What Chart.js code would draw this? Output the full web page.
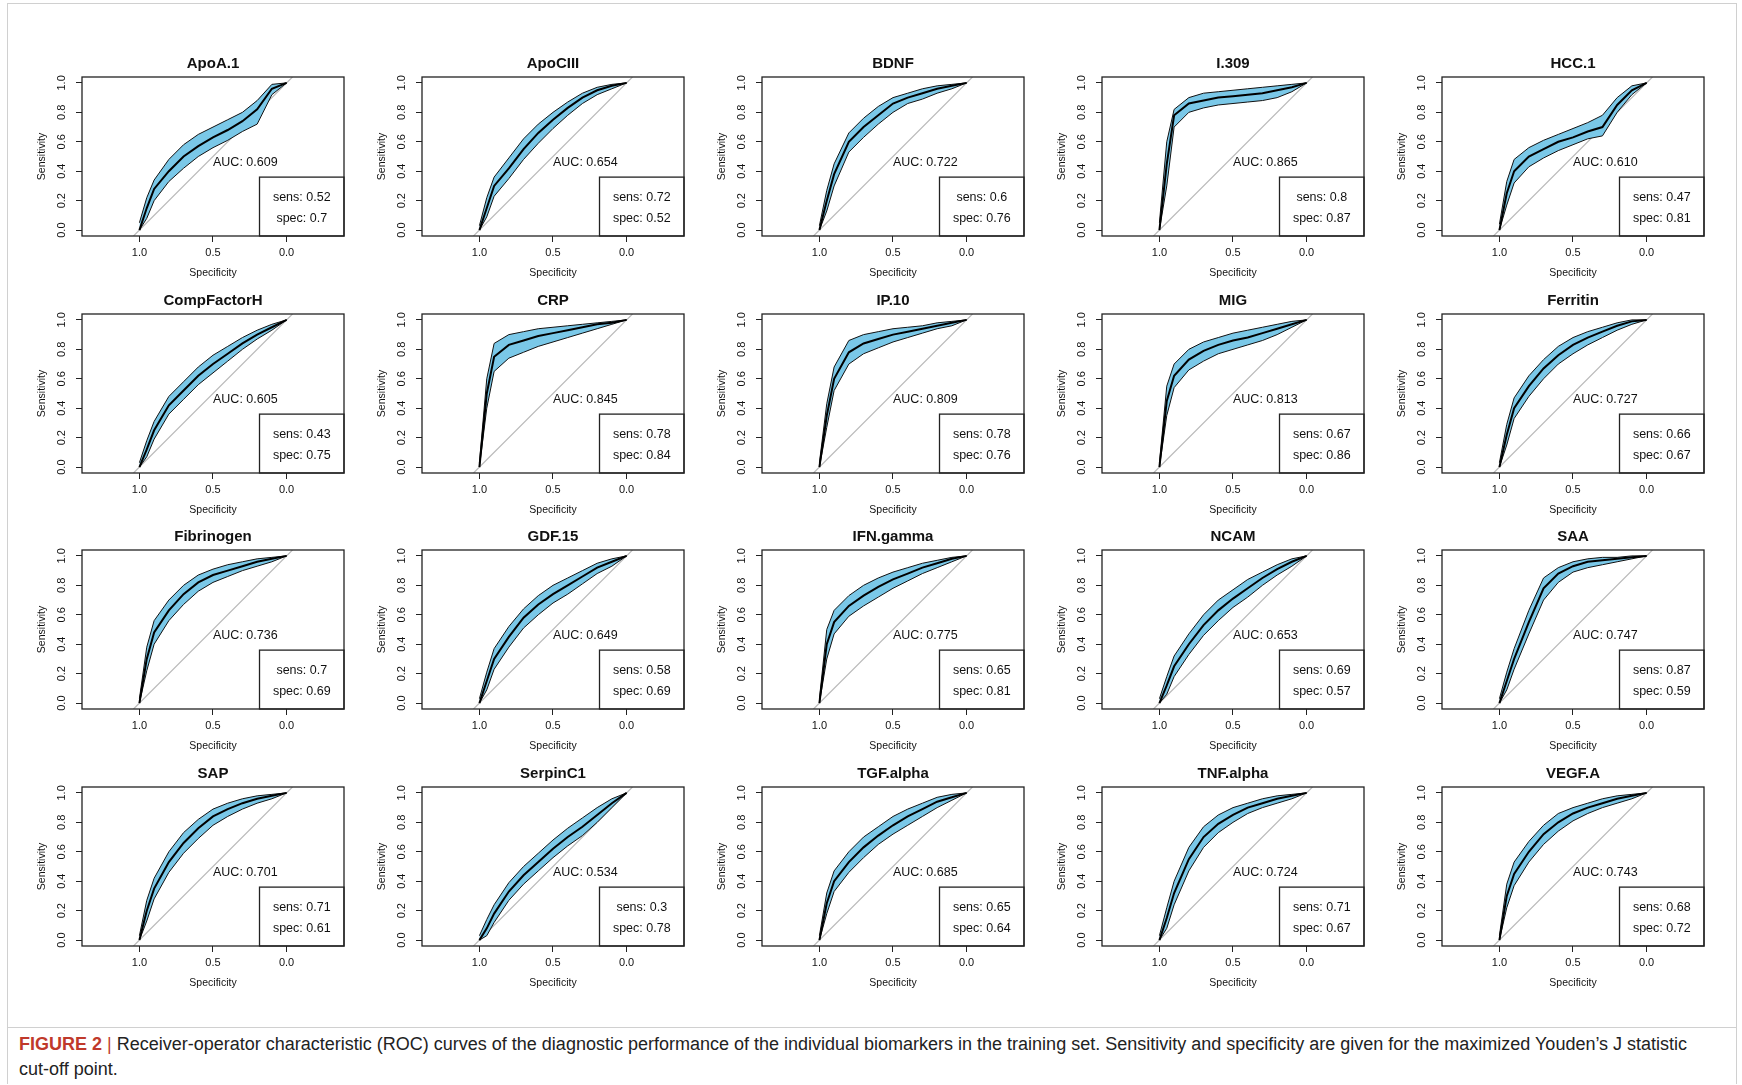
<!DOCTYPE html>
<html><head><meta charset="utf-8">
<script src="https://cdn.jsdelivr.net/npm/chart.js@4.4.0/dist/chart.umd.min.js"></script>
<style>
body{margin:0;width:1742px;height:1085px;background:#fff;position:relative;overflow:hidden;font-family:"Liberation Sans",Arial,sans-serif}
#frame{position:absolute;left:7px;top:3px;width:1728px;height:1080px;border:1px solid #d0d0d0;border-bottom:none}
#sep{position:absolute;left:7px;top:1027px;width:1729px;height:1px;background:#d0d0d0}
.pc{position:absolute;width:330px;height:250px}
#cap{position:absolute;left:19px;top:1032px;width:1690px;font-size:18px;line-height:25px;color:#222}
#cap b{color:#c0392b;font-weight:bold}
</style></head><body>
<div id="frame"></div><div id="sep"></div>
<div id="wrap"></div>
<div id="cap"><b>FIGURE 2</b> <span style="color:#c0392b">|</span> Receiver-operator characteristic (ROC) curves of the diagnostic performance of the individual biomarkers in the training set. Sensitivity and specificity are given for the maximized Youden’s J statistic cut-off point.</div>
<script>
const names=["ApoA.1","ApoCIII","BDNF","I.309","HCC.1","CompFactorH","CRP","IP.10","MIG","Ferritin","Fibrinogen","GDF.15","IFN.gamma","NCAM","SAA","SAP","SerpinC1","TGF.alpha","TNF.alpha","VEGF.A"];
const auc=["0.609","0.654","0.722","0.865","0.610","0.605","0.845","0.809","0.813","0.727","0.736","0.649","0.775","0.653","0.747","0.701","0.534","0.685","0.724","0.743"];
const sens=["0.52","0.72","0.6","0.8","0.47","0.43","0.78","0.78","0.67","0.66","0.7","0.58","0.65","0.69","0.87","0.71","0.3","0.65","0.71","0.68"];
const spec=["0.7","0.52","0.76","0.87","0.81","0.75","0.84","0.76","0.86","0.67","0.69","0.69","0.81","0.57","0.59","0.61","0.78","0.64","0.67","0.72"];
const specGrid=[1,0.95,0.9,0.8,0.7,0.6,0.5,0.4,0.3,0.2,0.1,0];
const xTicks=[1.0,0.5,0.0];
const yTicks=[0,0.2,0.4,0.6,0.8,1.0];
const sensMain=[
[0,0.15,0.28,0.40,0.50,0.57,0.63,0.68,0.74,0.82,0.96,1],
[0,0.15,0.3,0.42,0.55,0.66,0.75,0.83,0.9,0.95,0.98,1],
[0,0.2,0.38,0.6,0.7,0.78,0.86,0.9,0.93,0.96,0.98,1],
[0,0.45,0.78,0.86,0.88,0.9,0.91,0.92,0.93,0.95,0.97,1],
[0,0.25,0.4,0.5,0.55,0.6,0.63,0.67,0.7,0.85,0.95,1],
[0,0.12,0.25,0.42,0.52,0.62,0.7,0.77,0.84,0.9,0.95,1],
[0,0.5,0.75,0.83,0.86,0.89,0.91,0.93,0.95,0.97,0.98,1],
[0,0.35,0.6,0.78,0.84,0.87,0.9,0.92,0.94,0.96,0.98,1],
[0,0.45,0.62,0.73,0.79,0.83,0.86,0.88,0.91,0.94,0.97,1],
[0,0.22,0.4,0.55,0.67,0.76,0.83,0.88,0.92,0.96,0.99,1],
[0,0.3,0.48,0.63,0.74,0.82,0.87,0.9,0.93,0.96,0.98,1],
[0,0.15,0.3,0.45,0.58,0.67,0.74,0.8,0.86,0.92,0.96,1],
[0,0.4,0.55,0.66,0.73,0.79,0.84,0.88,0.92,0.95,0.98,1],
[0,0.12,0.25,0.4,0.53,0.63,0.71,0.78,0.85,0.91,0.96,1],
[0,0.15,0.3,0.55,0.78,0.88,0.93,0.96,0.97,0.98,0.99,1],
[0,0.2,0.35,0.53,0.66,0.76,0.84,0.89,0.93,0.96,0.98,1],
[0,0.08,0.18,0.33,0.44,0.53,0.62,0.7,0.77,0.85,0.93,1],
[0,0.25,0.4,0.53,0.63,0.71,0.78,0.84,0.89,0.94,0.97,1],
[0,0.15,0.32,0.55,0.7,0.79,0.85,0.9,0.93,0.96,0.98,1],
[0,0.3,0.45,0.6,0.72,0.8,0.86,0.9,0.93,0.96,0.98,1]];
const sensUpper=[
[0.05,0.22,0.34,0.48,0.58,0.65,0.70,0.75,0.80,0.88,0.99,1],
[0.03,0.22,0.36,0.49,0.62,0.72,0.8,0.87,0.93,0.97,0.99,1],
[0.03,0.27,0.45,0.66,0.76,0.84,0.9,0.93,0.96,0.98,0.99,1],
[0.05,0.6,0.82,0.9,0.93,0.94,0.95,0.96,0.97,0.98,0.99,1],
[0.04,0.33,0.48,0.56,0.61,0.65,0.69,0.73,0.78,0.9,0.98,1],
[0.03,0.18,0.31,0.48,0.58,0.68,0.76,0.82,0.88,0.93,0.97,1],
[0.03,0.6,0.84,0.9,0.92,0.94,0.95,0.96,0.97,0.98,0.99,1],
[0.03,0.43,0.68,0.86,0.9,0.92,0.94,0.95,0.96,0.98,0.99,1],
[0.03,0.55,0.7,0.8,0.85,0.88,0.91,0.93,0.95,0.97,0.99,1],
[0.03,0.29,0.47,0.62,0.73,0.82,0.88,0.92,0.95,0.98,1,1],
[0.03,0.38,0.56,0.7,0.8,0.87,0.91,0.94,0.96,0.98,0.99,1],
[0.03,0.21,0.37,0.52,0.64,0.73,0.8,0.85,0.9,0.95,0.98,1],
[0.03,0.5,0.63,0.73,0.8,0.85,0.89,0.92,0.95,0.97,0.99,1],
[0.03,0.18,0.32,0.47,0.6,0.7,0.77,0.84,0.89,0.94,0.98,1],
[0.03,0.21,0.37,0.63,0.85,0.92,0.96,0.98,0.99,0.99,1,1],
[0.03,0.27,0.42,0.6,0.73,0.82,0.89,0.93,0.96,0.98,0.99,1],
[0.03,0.14,0.24,0.39,0.5,0.59,0.68,0.76,0.83,0.9,0.96,1],
[0.03,0.32,0.47,0.6,0.7,0.77,0.84,0.89,0.93,0.97,0.99,1],
[0.03,0.22,0.4,0.63,0.77,0.85,0.9,0.93,0.96,0.98,0.99,1],
[0.03,0.38,0.53,0.67,0.78,0.86,0.9,0.93,0.96,0.98,0.99,1]];
const sensLower=[
[0,0.08,0.20,0.33,0.42,0.50,0.56,0.61,0.67,0.72,0.92,1],
[0,0.09,0.23,0.35,0.48,0.59,0.69,0.78,0.86,0.92,0.96,1],
[0,0.13,0.3,0.53,0.63,0.72,0.8,0.86,0.89,0.93,0.96,1],
[0,0.3,0.7,0.8,0.83,0.85,0.86,0.87,0.88,0.9,0.94,1],
[0,0.17,0.32,0.43,0.49,0.54,0.58,0.62,0.64,0.8,0.92,1],
[0,0.07,0.19,0.36,0.46,0.56,0.64,0.72,0.8,0.87,0.93,1],
[0,0.4,0.65,0.74,0.78,0.82,0.85,0.88,0.91,0.94,0.97,1],
[0,0.27,0.52,0.7,0.77,0.81,0.85,0.88,0.91,0.94,0.96,1],
[0,0.35,0.54,0.66,0.72,0.77,0.8,0.83,0.86,0.9,0.95,1],
[0,0.15,0.33,0.48,0.6,0.7,0.77,0.83,0.88,0.93,0.97,1],
[0,0.22,0.4,0.56,0.67,0.76,0.82,0.86,0.9,0.93,0.96,1],
[0,0.09,0.23,0.38,0.51,0.6,0.68,0.74,0.81,0.88,0.93,1],
[0,0.3,0.47,0.59,0.66,0.72,0.78,0.83,0.88,0.92,0.96,1],
[0,0.06,0.18,0.33,0.46,0.56,0.65,0.72,0.8,0.87,0.93,1],
[0,0.09,0.23,0.47,0.7,0.82,0.89,0.92,0.94,0.96,0.98,1],
[0,0.13,0.28,0.46,0.59,0.69,0.78,0.84,0.89,0.93,0.96,1],
[0,0.03,0.12,0.27,0.38,0.47,0.56,0.64,0.71,0.8,0.9,1],
[0,0.18,0.33,0.46,0.56,0.65,0.72,0.78,0.84,0.9,0.95,1],
[0,0.08,0.24,0.47,0.63,0.73,0.8,0.86,0.9,0.93,0.96,1],
[0,0.22,0.37,0.53,0.65,0.74,0.81,0.86,0.9,0.93,0.96,1]];

const FONT='"Liberation Sans",Arial,sans-serif';
const pts=a=>a.map((v,i)=>({x:specGrid[i],y:v}));
const deco={id:'deco',afterDraw(c,args,o){
  const ctx=c.ctx,a=c.chartArea,xs=c.scales.x,ys=c.scales.y,i=o.idx;
  ctx.save();
  ctx.strokeStyle='#222';ctx.lineWidth=1.3;ctx.strokeRect(a.left,a.top,a.right-a.left,a.bottom-a.top);
  const bx=xs.getPixelForValue(0.184),by=ys.getPixelForValue(0.36);
  ctx.strokeRect(bx,by,a.right-bx,a.bottom-by);
  ctx.fillStyle='#111';ctx.font='12.5px '+FONT;ctx.textAlign='center';ctx.textBaseline='middle';
  const cx=(bx+a.right)/2;
  ctx.fillText('sens: '+sens[i],cx,ys.getPixelForValue(0.22));
  ctx.fillText('spec: '+spec[i],cx,ys.getPixelForValue(0.08));
  ctx.textAlign='left';ctx.fillText('AUC: '+auc[i],xs.getPixelForValue(0.5),ys.getPixelForValue(0.46));
  ctx.textAlign='center';ctx.font='bold 15px '+FONT;ctx.fillText(names[i],(a.left+a.right)/2,a.top-13);
  ctx.font='11px '+FONT;
  yTicks.forEach(t=>{const y=ys.getPixelForValue(t);ctx.save();ctx.translate(a.left-20,y);ctx.rotate(-Math.PI/2);ctx.fillText(t.toFixed(1),0,0);ctx.restore();});
  ctx.save();ctx.translate(a.left-40,(a.top+a.bottom)/2);ctx.rotate(-Math.PI/2);ctx.font='10.5px '+FONT;ctx.fillText('Sensitivity',0,0);ctx.restore();
  ctx.font='10.5px '+FONT;ctx.fillText('Specificity',xs.getPixelForValue(0.5),a.bottom+37);
  ctx.restore();
}};
const wrap=document.getElementById('wrap');
names.forEach((n,i)=>{
  const col=i%5,row=Math.floor(i/5);
  const d=document.createElement('div');d.className='pc';
  d.style.left=(22+col*340)+'px';d.style.top=(37+row*236.7)+'px';
  const cv=document.createElement('canvas');cv.width=330;cv.height=250;d.appendChild(cv);wrap.appendChild(d);
  new Chart(cv,{type:'scatter',
    data:{datasets:[
      {data:pts(sensUpper[i]),showLine:true,borderColor:'#111',borderWidth:1,pointRadius:0,fill:false,order:3},
      {data:pts(sensLower[i]),showLine:true,borderColor:'#111',borderWidth:1,pointRadius:0,fill:'-1',backgroundColor:'rgb(122,200,232)',order:3},
      {data:[{x:1.04,y:-0.04},{x:-0.04,y:1.04}],showLine:true,borderColor:'#bbb',borderWidth:1.2,pointRadius:0,order:4},
      {data:pts(sensMain[i]),showLine:true,borderColor:'#000',borderWidth:2,pointRadius:0,order:0}
    ]},
    options:{responsive:false,animation:false,devicePixelRatio:1,
      layout:{padding:{top:40,right:8,left:0,bottom:0}},
      plugins:{legend:{display:false},tooltip:{enabled:false},deco:{idx:i}},
      scales:{
        x:{type:'linear',reverse:true,min:-0.39,max:1.39,
          afterBuildTicks:s=>{s.ticks=xTicks.map(v=>({value:v}));},
          afterFit:s=>{s.height=51;},
          grid:{drawOnChartArea:false,color:'#222',tickLength:6,tickColor:'#222'},border:{display:false},
          ticks:{font:{size:11,family:FONT},color:'#111',maxRotation:0,callback:v=>v.toFixed(1),padding:4}},
        y:{type:'linear',min:-0.04,max:1.04,
          afterBuildTicks:s=>{s.ticks=yTicks.map(v=>({value:v}));},
          afterFit:s=>{s.width=60;},
          grid:{drawOnChartArea:false,color:'#222',tickLength:6,tickColor:'#222'},border:{display:false},
          ticks:{display:true,color:'rgba(0,0,0,0)',font:{size:11}}}
      }},
    plugins:[deco]});
});
</script></body></html>
